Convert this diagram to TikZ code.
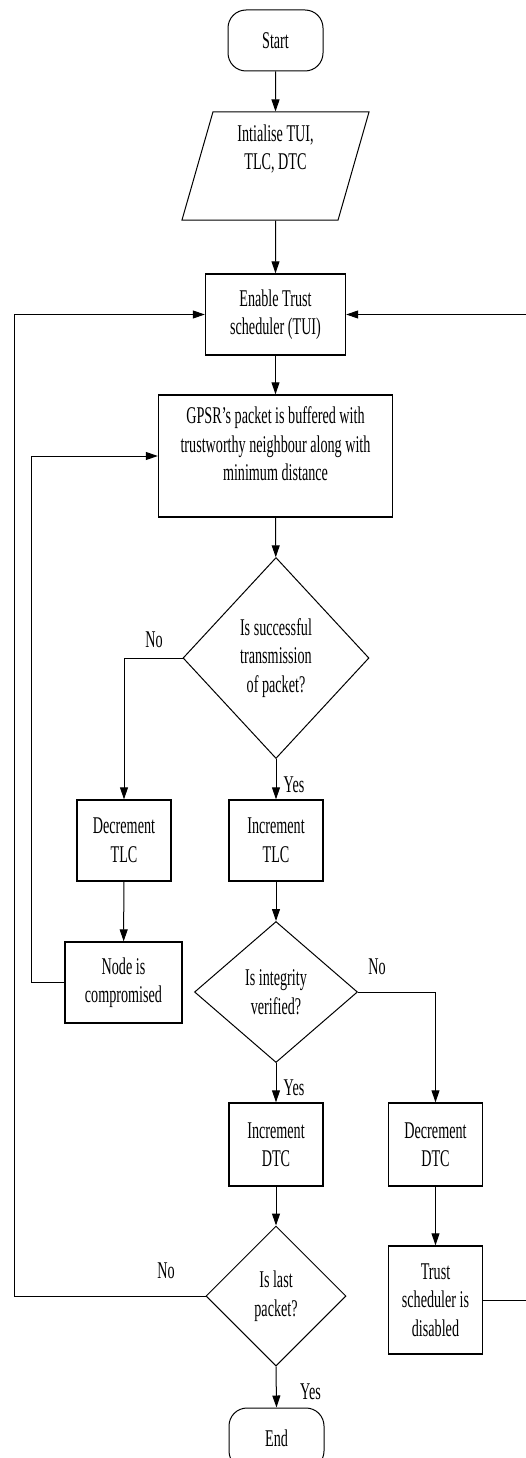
\documentclass[tikz,border=0pt]{standalone}
\usepackage{fontspec}
\setmainfont{Liberation Serif}[FakeStretch=0.59]
\usetikzlibrary{shapes, arrows.meta}

\begin{document}
\begin{tikzpicture}[x=1pt, y=-1pt, font=\fontsize{24}{28.5}\selectfont,
        term/.style = {draw, line width=1pt, rounded corners=18pt,
                        minimum width=95pt, minimum height=61pt},
        io/.style = {draw, line width=1pt, trapezium, trapezium left angle=71,
                        trapezium right angle=109, trapezium stretches body=true,
                        minimum width=187pt, minimum height=108pt, align=center},
        proc/.style = {draw, line width=1.4pt, minimum width=94pt,
                        minimum height=81pt, align=center},
        dec/.style = {draw, line width=1pt, diamond, inner sep=0pt, align=center},
        flow/.style = {line width=1pt, -{Triangle[length=12pt, width=8pt]}},
        link/.style = {line width=1pt}]
        \useasboundingbox (0,0) rectangle (525,1458);

        \node[term] (start) at (275.5,40.5) {Start};
        \node[io, text depth=38pt] (init) at (275.5,166) {Intialise TUI,\\TLC, DTC};
        \node[proc, minimum width=140pt] (enable) at (275.5,314.5) {Enable Trust\\scheduler (TUI)};
        \node[proc, minimum width=234pt, minimum height=122pt, text depth=24pt] (gpsr) at (275.5,456)
                {GPSR's packet is buffered with\\trustworthy neighbour along with\\minimum distance};
        \node[dec, minimum width=186pt, minimum height=201pt] (succ) at (276,658)
                {Is successful\\transmission\\of packet?};

        \node[proc] (dectlc) at (124,840.5) {Decrement\\TLC};
        \node[proc] (inctlc) at (276,840.5) {Increment\\TLC};
        \node[proc, minimum width=117pt] (comp) at (123.5,982.5) {Node is\\compromised};
        \node[dec, minimum width=163pt, minimum height=141pt] (integ) at (276,992) {Is integrity\\verified?};

        \node[proc, minimum height=83pt] (incdtc) at (276,1144.5) {Increment\\DTC};
        \node[proc, minimum height=83pt] (decdtc) at (435.5,1144.5) {Decrement\\DTC};
        \node[dec, minimum width=140pt, minimum height=140pt] (last) at (276,1296) {Is last\\packet?};
        \node[proc, minimum height=108pt] (disab) at (435.5,1300) {Trust\\scheduler is\\disabled};
        \node[term] (end) at (276.5,1438.5) {End};

        % branch labels
        \node (no1) at (154,640) {No};
        \node (yes1) at (294,785) {Yes};
        \node (no2) at (377,967) {No};
        \node (yes2) at (294,1088) {Yes};
        \node (no3) at (166,1271) {No};
        \node (yes3) at (310.5,1392) {Yes};

        % return lines
        \coordinate (loopin) at (31,0);
        \coordinate (loopout) at (14,0);
        \coordinate (loopright) at (527,0);

        \draw[flow] (start) -- (init);
        \draw[flow] (init) -- (enable);
        \draw[flow] (enable) -- (gpsr);
        \draw[flow] (gpsr) -- (succ);
        \draw[flow] (succ.west) -| (dectlc.north);
        \draw[flow] (succ.south) -- (inctlc.north);
        \draw[flow] (dectlc) -- (comp);
        \draw[flow] (comp.west) -- (comp.west -| loopin) |- (gpsr.west);
        \draw[flow] (inctlc) -- (integ);
        \draw[flow] (integ.east) -| (decdtc.north);
        \draw[flow] (integ.south) -- (incdtc.north);
        \draw[flow] (incdtc) -- (last);
        \draw[flow] (decdtc) -- (disab);
        \draw[flow] (last.south) -- (end.north);
        \draw[flow] (last.west) -- (last.west -| loopout) |- (enable.west);
        \draw[flow] (disab.east) -- (disab.east -| loopright) |- (enable.east);
    \end{tikzpicture}
\end{document}
